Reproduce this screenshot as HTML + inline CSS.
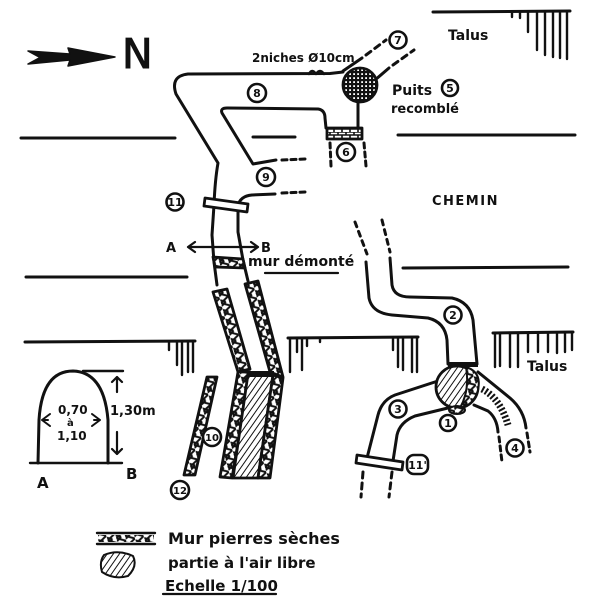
<!DOCTYPE html>
<html><head><meta charset="utf-8">
<style>
html,body{margin:0;padding:0;background:#fff;}
svg{display:block;}
text{font-family:"DejaVu Sans","Liberation Sans",sans-serif;fill:#111;}
</style></head>
<body>
<svg width="600" height="596" viewBox="0 0 600 596" xmlns="http://www.w3.org/2000/svg">
<defs>
  <pattern id="stone" patternUnits="userSpaceOnUse" width="9" height="10" patternTransform="rotate(-15)">
    <rect width="9" height="10" fill="#fff"/>
    <path d="M0,0 L9,5 L0,10 M5,0 L0,3 M5,10 L0,7" stroke="#111" stroke-width="2" fill="none"/>
  </pattern>
  <pattern id="hatch" patternUnits="userSpaceOnUse" width="5" height="5" patternTransform="rotate(35)">
    <rect width="5" height="5" fill="#fff"/>
    <line x1="0" y1="0" x2="0" y2="5" stroke="#111" stroke-width="2"/>
  </pattern>
  <pattern id="grid" patternUnits="userSpaceOnUse" width="4" height="4">
    <rect width="4" height="4" fill="#111"/>
    <rect x="1.2" y="1.2" width="1.8" height="1.8" fill="#fff"/>
  </pattern>
  <pattern id="brick" patternUnits="userSpaceOnUse" width="8" height="6">
    <rect width="8" height="6" fill="#fff"/>
    <path d="M0,0 H8 M0,3 H8 M2,0 V3 M6,3 V6" stroke="#111" stroke-width="1.6"/>
  </pattern>
</defs>

<g stroke="#111" stroke-width="3" fill="none" stroke-linecap="round" stroke-linejoin="round">
  <!-- north arrow -->
  <path d="M28,51 L70,54 L68,48 L115,57 L68,66 L70,60 L28,64 L40,57.5 Z" fill="#111" stroke-width="1.5"/>

  <!-- road lines -->
  <line x1="21" y1="138" x2="175" y2="138"/>
  <line x1="253" y1="137" x2="295" y2="137"/>
  <line x1="398" y1="135" x2="575" y2="135"/>
  <line x1="433" y1="12" x2="570" y2="11"/>
  <line x1="26" y1="277" x2="187" y2="277"/>
  <line x1="403" y1="268" x2="568" y2="267"/>
  <line x1="25" y1="342" x2="195" y2="341"/>
  <line x1="288" y1="338" x2="418" y2="337"/>
  <line x1="493" y1="333" x2="573" y2="332"/>

  <!-- talus hatches -->
  <g stroke-width="2.4">
    <line x1="512" y1="12" x2="512" y2="17"/>
    <line x1="520" y1="12" x2="520" y2="18"/>
    <line x1="528" y1="12" x2="528" y2="32"/>
    <line x1="537" y1="12" x2="537" y2="50"/>
    <line x1="545" y1="12" x2="545" y2="55"/>
    <line x1="553" y1="12" x2="553" y2="57"/>
    <line x1="560" y1="12" x2="560" y2="58"/>
    <line x1="567" y1="12" x2="567" y2="59"/>
    <line x1="169" y1="342" x2="169" y2="350"/>
    <line x1="177" y1="342" x2="177" y2="365"/>
    <line x1="182" y1="342" x2="182" y2="375"/>
    <line x1="188" y1="342" x2="188" y2="372"/>
    <line x1="193" y1="342" x2="193" y2="372"/>
    <line x1="290" y1="338" x2="290" y2="372"/>
    <line x1="297" y1="338" x2="297" y2="352"/>
    <line x1="302" y1="338" x2="302" y2="370"/>
    <line x1="307" y1="338" x2="307" y2="346"/>
    <line x1="320" y1="338" x2="320" y2="342"/>
    <line x1="393" y1="338" x2="393" y2="350"/>
    <line x1="398" y1="338" x2="398" y2="367"/>
    <line x1="403" y1="338" x2="403" y2="370"/>
    <line x1="412" y1="338" x2="412" y2="372"/>
    <line x1="417" y1="338" x2="417" y2="372"/>
    <line x1="495" y1="333" x2="495" y2="367"/>
    <line x1="500" y1="333" x2="500" y2="366"/>
    <line x1="510" y1="333" x2="510" y2="367"/>
    <line x1="518" y1="333" x2="518" y2="367"/>
    <line x1="528" y1="333" x2="528" y2="352"/>
    <line x1="538" y1="333" x2="538" y2="352"/>
    <line x1="548" y1="333" x2="548" y2="352"/>
    <line x1="557" y1="333" x2="557" y2="353"/>
    <line x1="565" y1="333" x2="565" y2="352"/>
    <line x1="572" y1="333" x2="572" y2="350"/>
  </g>

  <!-- upper passage outer contour -->
  <path d="M343,72 L330,73.5 L188,74 Q170,76 176,94 L218,163 Q215,180 214,205 L212,235 L214,262 L217,285"/>
  <path d="M309,74 Q312,68 316,74 Q320,68 324,74" stroke-width="2.4"/>
  <!-- inner contour -->
  <path d="M276,160 L253,164 L222,113 Q220,108 227,108 L318,109 Q325,110 325,118 L326,128"/>
  <path d="M282,160 L305,159" stroke-dasharray="5 4"/>
  <path d="M238,206 Q240,196 252,195 L275,194"/>
  <path d="M282,193 L305,192" stroke-dasharray="5 4"/>
  <path d="M238,211 L238,232 L243,260 L248,281"/>

  <!-- puits lines -->
  <path d="M343,71 L362,58"/>
  <path d="M366,55 L386,40" stroke-dasharray="6 5"/>
  <path d="M375,80 L389,68"/>
  <path d="M393,65 L414,50" stroke-dasharray="6 5"/>
  <path d="M358,100 L358,128"/>
  <path d="M330,143 L331,166" stroke-dasharray="5 4"/>
  <path d="M364,143 L366,166" stroke-dasharray="5 4"/>

  <!-- AB arrow -->
  <path d="M188,247 L258,247 M195,242 L188,247 L195,252 M251,242 L258,247 L251,252" stroke-width="2.2"/>
  <line x1="265" y1="273" x2="338" y2="273" stroke-width="2.2"/>

  <!-- right complex -->
  <path d="M355,222 L367,254" stroke-dasharray="5 5"/>
  <path d="M382,220 L390,252" stroke-dasharray="5 5"/>
  <path d="M366,262 L369,298 Q372,313 392,315 L428,318 Q445,322 447,340 L448,364"/>
  <path d="M390,258 L392,285 Q394,297 410,297 L452,298 Q470,302 473,320 L477,364"/>
  <path d="M438,381 L395,395 Q382,400 378,415 L367,458"/>
  <path d="M452,407 L415,416 Q400,422 397,435 L393,461"/>
  <path d="M363,472 L361,497" stroke-dasharray="6 5"/>
  <path d="M392,472 L389,497" stroke-dasharray="6 5"/>
  <path d="M478,372 L510,398 Q524,410 526,428"/>
  <path d="M527,433 L530,452" stroke-dasharray="5 4"/>
  <path d="M474,405 L488,411 Q497,418 498,432"/>
  <path d="M499,437 L502,462" stroke-dasharray="5 4"/>
  <!-- ladder strip to 4 -->
  <path d="M482,389 Q500,398 508,425" stroke-width="7" stroke-dasharray="2 2" stroke-linecap="butt"/>

  <!-- arch section -->
  <path d="M38,463 L39,420 Q42,371 73,371 Q104,372 108,420 L108,463"/>
  <line x1="83" y1="371" x2="123" y2="371" stroke-width="2.4"/>
  <line x1="30" y1="463" x2="122" y2="463" stroke-width="2.4"/>
  <path d="M117,392 L117,377 M112,382 L117,377 L122,382" stroke-width="2.2"/>
  <path d="M117,432 L117,454 M112,449 L117,454 L122,449" stroke-width="2.2"/>
  <path d="M50,414 L42,420 L50,426 M42,420 L48,420" stroke-width="2"/>
  <path d="M92,414 L100,420 L92,426 M100,420 L94,420" stroke-width="2"/>

  <!-- legend lines -->
  <line x1="97" y1="533" x2="155" y2="533" stroke-width="2.4"/>
  <line x1="97" y1="544" x2="155" y2="544" stroke-width="2.4"/>
  <line x1="163" y1="594" x2="276" y2="594" stroke-width="2.2"/>
</g>

<!-- filled shapes -->
<g stroke="#111" stroke-width="2.8" stroke-linejoin="round">
  <circle cx="360" cy="85" r="17" fill="url(#grid)"/>
  <rect x="327" y="128" width="35" height="11" fill="url(#brick)"/>
  <polygon points="205,198 248,204 247,212 204,206" fill="#fff"/>
  <polygon points="213,257 243,259 245,268 215,267" fill="url(#stone)"/>
  <polygon points="213,292 227,289 250,369 238,372" fill="url(#stone)"/>
  <polygon points="245,284 258,281 283,377 270,372" fill="url(#stone)"/>
  <polygon points="238,372 250,372 232,478 220,477" fill="url(#stone)"/>
  <polygon points="248,374 273,375 258,478 233,478" fill="url(#hatch)"/>
  <polygon points="273,375 283,378 270,478 258,478" fill="url(#stone)"/>
  <rect x="248" y="371" width="26" height="6" fill="#111" stroke="none"/>
  <polygon points="207,377 217,377 195,475 184,475" fill="url(#stone)"/>
  <rect x="448" y="362" width="30" height="5" fill="#111" stroke="none"/>
  <ellipse cx="457" cy="387" rx="21" ry="21" fill="url(#hatch)"/>
  <path d="M466,367 Q482,372 478,390 Q474,405 460,408 Q470,390 466,367 Z" fill="url(#stone)" stroke-width="2"/>
  <ellipse cx="457" cy="410" rx="8" ry="4" fill="url(#stone)" stroke-width="2"/>
  <polygon points="357,455 403,462 402,470 356,463" fill="#fff"/>
  <rect x="98" y="535" width="56" height="7" fill="url(#stone)" stroke="none"/>
  <path d="M104,555 Q118,549 133,556 Q138,566 128,576 Q114,580 102,572 Q99,562 104,555 Z" fill="url(#hatch)" stroke-width="2"/>
</g>

<!-- circled numbers -->
<g fill="#fff" stroke="#111" stroke-width="2.6">
  <circle cx="398" cy="40" r="8.5"/>
  <circle cx="450" cy="88" r="8"/>
  <circle cx="257" cy="93" r="9"/>
  <circle cx="346" cy="152" r="9"/>
  <circle cx="266" cy="177" r="9"/>
  <circle cx="175" cy="202" r="8.5"/>
  <circle cx="453" cy="315" r="8.5"/>
  <circle cx="398" cy="409" r="8.5"/>
  <circle cx="448" cy="423" r="8"/>
  <circle cx="515" cy="448" r="8.5"/>
  <rect x="407" y="455" width="21" height="19" rx="7"/>
  <circle cx="212" cy="437" r="9"/>
  <circle cx="180" cy="490" r="9"/>
</g>
<g font-size="11" font-weight="bold" text-anchor="middle">
  <text x="398" y="44">7</text>
  <text x="450" y="92">5</text>
  <text x="257" y="97">8</text>
  <text x="346" y="156">6</text>
  <text x="266" y="181">9</text>
  <text x="175" y="206">11</text>
  <text x="453" y="319">2</text>
  <text x="398" y="413">3</text>
  <text x="448" y="427">1</text>
  <text x="515" y="452">4</text>
  <text x="417.5" y="469">11'</text>
  <text x="212" y="441" font-size="10">10</text>
  <text x="180" y="494" font-size="10">12</text>
</g>

<!-- labels -->
<text x="122" y="68" font-family="Liberation Sans, sans-serif" font-size="41" stroke="#111" stroke-width="1">N</text>
<text x="252" y="62" font-size="12" font-weight="bold">2niches Ø10cm</text>
<text x="448" y="40" font-size="14" font-weight="bold">Talus</text>
<text x="392" y="95" font-size="14" font-weight="bold">Puits</text>
<text x="391" y="113" font-size="13" font-weight="bold">recomblé</text>
<text x="432" y="205" font-size="13" font-weight="bold" letter-spacing="1.5">CHEMIN</text>
<text x="166" y="252" font-size="13" font-weight="bold">A</text>
<text x="261" y="252" font-size="13" font-weight="bold">B</text>
<text x="248" y="266" font-size="14" font-weight="bold">mur démonté</text>
<text x="527" y="371" font-size="14" font-weight="bold">Talus</text>
<text x="58" y="414" font-size="12" font-weight="bold">0,70</text>
<text x="67" y="426" font-size="10" font-weight="bold">à</text>
<text x="57" y="440" font-size="12" font-weight="bold">1,10</text>
<text x="110" y="415" font-size="13" font-weight="bold">1,30m</text>
<text x="37" y="488" font-size="15" font-weight="bold">A</text>
<text x="126" y="479" font-size="15" font-weight="bold">B</text>
<text x="168" y="544" font-size="16" font-weight="bold">Mur pierres sèches</text>
<text x="168" y="568" font-size="15" font-weight="bold">partie à l'air libre</text>
<text x="165" y="591" font-size="15" font-weight="bold">Echelle 1/100</text>
</svg>
</body></html>
